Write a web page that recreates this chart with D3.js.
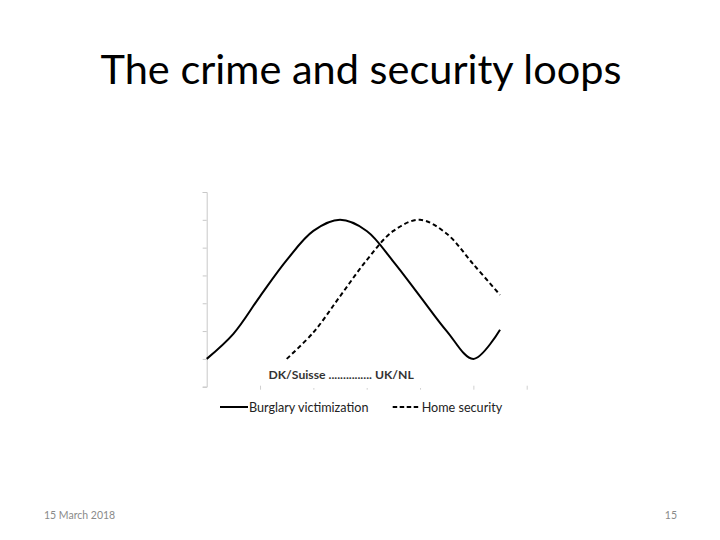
<!DOCTYPE html>
<html>
<head>
<meta charset="utf-8">
<script src="https://cdn.jsdelivr.net/npm/d3@7"></script>
<style>
  body { margin: 0; background: #fff; }
  svg { display: block; }
</style>
</head>
<body>
<div class="container"></div>
<script>
// values (x = position index, y = relative level)
const burglaryX = [0, 1, 2, 3, 4, 5, 6, 7, 8, 9, 10, 11];
const burglaryY = [1, 1.9, 3.25, 4.55, 5.6, 6, 5.6, 4.5, 3.25, 2.0, 1, 2.05];
const securityX = [3, 4, 5, 6, 7, 8, 9, 10, 11];
const securityY = [1, 1.95, 3.25, 4.55, 5.6, 6, 5.5, 4.4, 3.3];
const yTicks = [0, 1, 2, 3, 4, 5, 6, 7];
const xTicks = [2, 4, 6, 8, 10, 12];
const seriesNames = ["Burglary victimization", "Home security"];
const countryLabel = "DK/Suisse ............... UK/NL";

const w = 720, h = 540,
    plot = { left: 206.7, right: 526.7, top: 192, bottom: 386.7 };

const svg = d3.select("div.container")
    .append("svg")
    .attr("width", w)
    .attr("height", h);

svg.append("text")
    .attr("x", 361)
    .attr("y", 84)
    .attr("text-anchor", "middle")
    .style("font-family", "Lato, 'Open Sans', sans-serif")
    .style("font-size", "41.5px")
    .attr("fill", "#000")
    .text("The crime and security loops");

const xScale = d3.scaleLinear().domain([0, 12]).range([plot.left, plot.right]);
const yScale = d3.scaleLinear().domain([0, 7]).range([plot.bottom, plot.top]);

// y axis: light grey line with small ticks, no labels
const yAxis = d3.axisLeft(yScale).tickValues(yTicks).tickSize(4).tickFormat("");
const gy = svg.append("g")
    .attr("transform", "translate(" + plot.left + ",0)")
    .call(yAxis);
gy.selectAll("path, line").attr("stroke", "#c8c8c8");

// x axis: ticks only
const xAxis = d3.axisBottom(xScale).tickValues(xTicks).tickSize(4).tickFormat("");
const gx = svg.append("g")
    .attr("transform", "translate(0," + (plot.bottom - 1) + ")")
    .call(xAxis);
gx.select("path").remove();
gx.selectAll("line").attr("stroke", "#d0d0d0");

const line = d3.line()
    .x(d => xScale(d[0]))
    .y(d => yScale(d[1]))
    .curve(d3.curveCatmullRom.alpha(0.5));

svg.append("path")
    .datum(d3.zip(burglaryX, burglaryY))
    .attr("d", line)
    .attr("fill", "none")
    .attr("stroke", "#000")
    .attr("stroke-width", 2);

svg.append("path")
    .datum(d3.zip(securityX, securityY))
    .attr("d", line)
    .attr("fill", "none")
    .attr("stroke", "#000")
    .attr("stroke-width", 2)
    .attr("stroke-dasharray", "4.5,3");

// text box with the country label (white box hides the tick under it)
const lbl = svg.append("g");
lbl.append("rect")
    .attr("x", 265).attr("y", 366)
    .attr("width", 156).attr("height", 22)
    .attr("fill", "#fff");
lbl.append("text")
    .attr("x", 268.5)
    .attr("y", 378.5)
    .style("font-family", "Lato, sans-serif")
    .style("font-size", "12.2px")
    .style("font-weight", "bold")
    .attr("fill", "#333")
    .text(countryLabel);

// legend
const legend = svg.append("g")
    .selectAll("g")
    .data(seriesNames)
    .enter()
    .append("g")
    .attr("transform", (d, i) => "translate(" + (i === 0 ? 220 : 392.7) + ",407)");

legend.append("line")
    .attr("x1", 0).attr("x2", 28)
    .attr("stroke", "#000")
    .attr("stroke-width", 2)
    .attr("stroke-dasharray", (d, i) => i === 0 ? null : "4.5,2.5");

legend.append("text")
    .attr("x", 29)
    .attr("y", 4.5)
    .style("font-family", "Lato, sans-serif")
    .style("font-size", "12.6px")
    .attr("fill", "#222")
    .text(d => d);

// footer
svg.append("text")
    .attr("x", 44)
    .attr("y", 519)
    .style("font-family", "Lato, sans-serif")
    .style("font-size", "10.5px")
    .attr("fill", "#8a8a8a")
    .text("15 March 2018");

svg.append("text")
    .attr("x", 677)
    .attr("y", 519)
    .attr("text-anchor", "end")
    .style("font-family", "Lato, sans-serif")
    .style("font-size", "10.5px")
    .attr("fill", "#8a8a8a")
    .text("15");
</script>
</body>
</html>
